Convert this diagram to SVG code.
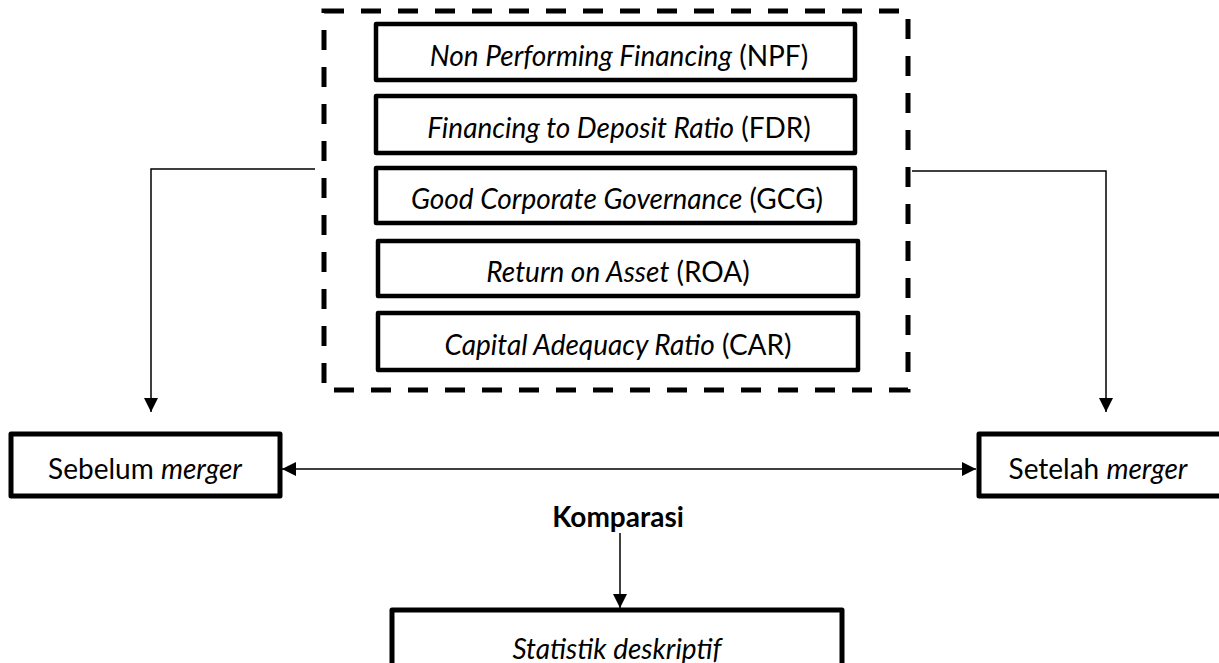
<svg xmlns="http://www.w3.org/2000/svg" width="1219" height="663" viewBox="0 0 1219 663">
<style>
  .bx { fill: #fff; stroke: #000; stroke-width: 4.5; stroke-linejoin: round; }
  .bx2 { fill: #fff; stroke: #000; stroke-width: 5; stroke-linejoin: round; }
  .dash { fill: none; stroke: #000; stroke-width: 5; stroke-dasharray: 20 17; }
  .t { font-family: Lato, "Open Sans", sans-serif; font-size: 28px; fill: #000; text-anchor: middle; }
  .i { font-style: italic; }
  .b { font-weight: bold; }
  .cn { fill: none; stroke: #000; stroke-width: 1.5; }
</style>
<defs>
  <marker id="ah" viewBox="0 0 10 10" refX="10" refY="5" markerWidth="15" markerHeight="14" markerUnits="userSpaceOnUse" orient="auto-start-reverse">
    <path d="M0,0 L10,5 L0,10 z" fill="#000"/>
  </marker>
</defs>
<rect width="1219" height="663" fill="#fff"/>

<g id="group-box">
  <rect class="dash" x="324" y="11" width="584" height="379"/>
</g>

<g id="npf">
  <rect class="bx" x="376" y="24" width="479" height="56"/>
  <text class="t" x="619" y="66"><tspan class="i">Non Performing Financing</tspan> (NPF)</text>
</g>
<g id="fdr">
  <rect class="bx" x="376" y="96" width="479" height="57"/>
  <text class="t" x="619" y="138"><tspan class="i">Financing to Deposit Ratio</tspan> (FDR)</text>
</g>
<g id="gcg">
  <rect class="bx" x="376" y="168" width="479" height="55"/>
  <text class="t" x="617" y="209"><tspan class="i">Good Corporate Governance</tspan> (GCG)</text>
</g>
<g id="roa">
  <rect class="bx" x="378" y="241" width="480" height="55"/>
  <text class="t" x="618" y="282"><tspan class="i">Return on Asset</tspan> (ROA)</text>
</g>
<g id="car">
  <rect class="bx" x="378" y="313" width="480" height="57"/>
  <text class="t" x="618" y="355"><tspan class="i">Capital Adequacy Ratio</tspan> (CAR)</text>
</g>

<g id="sebelum">
  <rect class="bx2" x="11" y="434" width="269" height="62"/>
  <text class="t" x="145" y="479">Sebelum <tspan class="i">merger</tspan></text>
</g>
<g id="setelah">
  <rect class="bx2" x="979" y="434" width="250" height="62"/>
  <text class="t" x="1098" y="479">Setelah <tspan class="i">merger</tspan></text>
</g>

<g id="komparasi">
  <text class="t b" x="618" y="527">Komparasi</text>
</g>

<g id="statistik">
  <rect class="bx2" x="392" y="610" width="450" height="70"/>
  <text class="t i" x="617" y="659">Statistik deskriptif</text>
</g>

<g id="connectors">
  <path class="cn" d="M315,169 H151 V412" marker-end="url(#ah)"/>
  <path class="cn" d="M912,171 H1106 V412" marker-end="url(#ah)"/>
  <path class="cn" d="M282,469 H976" marker-start="url(#ah)" marker-end="url(#ah)"/>
  <path class="cn" d="M620,533 V608" marker-end="url(#ah)"/>
</g>
</svg>
